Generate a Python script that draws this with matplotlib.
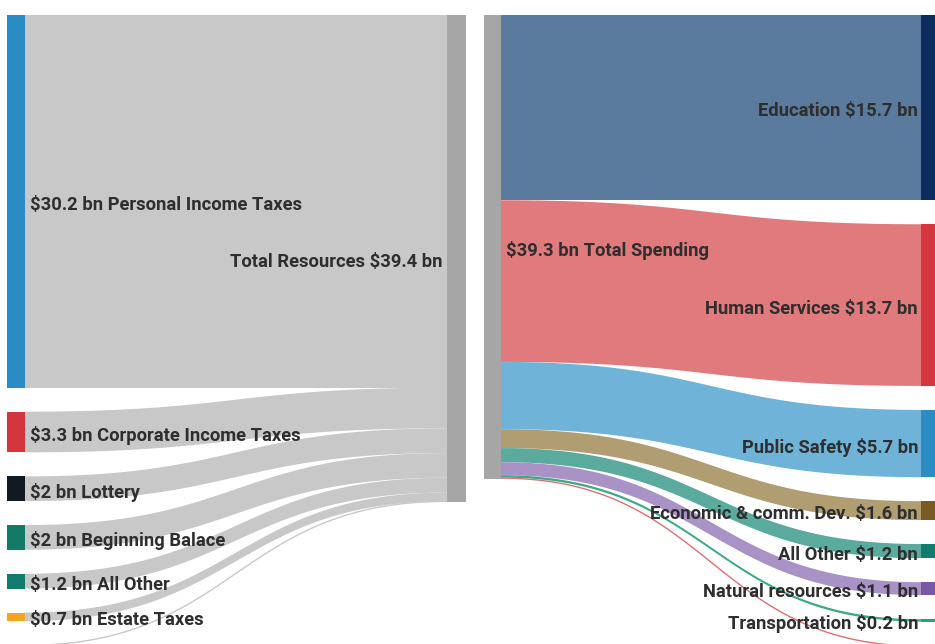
import numpy as np
import matplotlib
matplotlib.use("Agg")
import matplotlib.pyplot as plt

# sources -> Total Resources
src_labels = ["$30.2 bn Personal Income Taxes", "$3.3 bn Corporate Income Taxes", "$2 bn Lottery",
              "$2 bn Beginning Balace", "$1.2 bn All Other", "$0.7 bn Estate Taxes", ""]
src_values = [30.2, 3.3, 2.0, 2.0, 1.2, 0.7, 0.03]
src_colors = ["#2b8cc4", "#d4363d", "#111a22", "#137a68", "#137a6e", "#f2a623", "#c8c8c8"]
total_res_label = "Total Resources $39.4 bn"

# Total Spending -> targets
spend_label = "$39.3 bn Total Spending"
tgt_labels = ["Education $15.7 bn", "Human Services $13.7 bn", "Public Safety $5.7 bn",
              "Economic & comm. Dev. $1.6 bn", "All Other $1.2 bn", "Natural resources $1.1 bn",
              "Transportation $0.2 bn", ""]
tgt_values = [15.7, 13.7, 5.7, 1.6, 1.2, 1.1, 0.2, 0.1]
tgt_node_colors = ["#0b2c5c", "#d4363d", "#2b8cc4", "#7a5c22", "#137a6e", "#7a58a8", "#2aa07c", "#e07070"]
tgt_flow_colors = ["#5a7a9e", "#e07a7c", "#6fb3d8", "#b09d72", "#5aaa9e", "#a992c6", "#3aaa88", "#e07070"]

W, H = 935, 644
TOP = 15
NODE_GREY = "#a6a6a6"
FLOW_GREY = "#c8c8c8"
TXT = "#2e2e2e"
DY = 3.5  # text baseline nudge
FONT = dict(family=["Roboto", "DejaVu Sans"], fontweight="bold", fontsize=13.2, color=TXT)

fig = plt.figure(figsize=(W / 100, H / 100), dpi=100)
ax = fig.add_axes([0, 0, 1, 1])
ax.set_xlim(0, W)
ax.set_ylim(H, 0)
ax.axis("off")


def curve(x0, y0, x1, y1, n=80):
    t = np.linspace(0, 1, n)
    xm = (x0 + x1) / 2
    xs = (1 - t) ** 3 * x0 + 3 * (1 - t) ** 2 * t * xm + 3 * (1 - t) * t ** 2 * xm + t ** 3 * x1
    ys = (1 - t) ** 3 * y0 + 3 * (1 - t) ** 2 * t * y0 + 3 * (1 - t) * t ** 2 * y1 + t ** 3 * y1
    return xs, ys


def band(x0, a0, b0, x1, a1, b1, color):
    xt, yt = curve(x0, a0, x1, a1)
    xb, yb = curve(x0, b0, x1, b1)
    if b0 - a0 < 1.5:
        ax.plot(xt, (yt + yb) / 2, color=color, lw=1.0, zorder=1)
    else:
        ax.fill(np.r_[xt, xb[::-1]], np.r_[yt, yb[::-1]], color=color, lw=0, zorder=1)


# ---- left: sources -> total resources
k_left, gap_left = 12.34, 24
x_src0, x_src1 = 7, 25
x_tot0, x_tot1 = 447, 466
y = TOP
y_in = TOP
for lab, v, c in zip(src_labels, src_values, src_colors):
    h = v * k_left
    band(x_src1, y, y + h, x_tot0, y_in, y_in + h, FLOW_GREY)
    if lab:
        ax.add_patch(plt.Rectangle((x_src0, y), x_src1 - x_src0, h, color=c, lw=0, zorder=2))
        ax.text(x_src1 + 5, y + h / 2 + DY, lab, ha="left", va="center", zorder=3, **FONT)
    y += h + gap_left
    y_in += h
ax.add_patch(plt.Rectangle((x_tot0, TOP), x_tot1 - x_tot0, sum(src_values) * k_left,
                           color=NODE_GREY, lw=0, zorder=2))
ax.text(x_tot0 - 4, TOP + sum(src_values) * k_left / 2 + DY, total_res_label,
        ha="right", va="center", zorder=3, **FONT)

# ---- right: total spending -> targets
k_right, gap_right = 11.8, 24
x_sp0, x_sp1 = 484, 501
x_t0, x_t1 = 921, 940
y = TOP
y_out = TOP
for lab, v, fc, nc in zip(tgt_labels, tgt_values, tgt_flow_colors, tgt_node_colors):
    h = v * k_right
    band(x_sp1, y_out, y_out + h, x_t0, y, y + h, fc)
    ax.add_patch(plt.Rectangle((x_t0, y), x_t1 - x_t0, max(h, 1.5), color=nc, lw=0, zorder=2))
    if lab:
        ax.text(x_t0 - 3, y + h / 2 + DY, lab, ha="right", va="center", zorder=3, **FONT)
    y += h + gap_right
    y_out += h
sp_h = sum(tgt_values) * k_right
ax.add_patch(plt.Rectangle((x_sp0, TOP), x_sp1 - x_sp0, sp_h, color=NODE_GREY, lw=0, zorder=2))
ax.text(x_sp1 + 5, TOP + sp_h / 2 + DY, spend_label, ha="left", va="center", zorder=3, **FONT)

fig.savefig("out.png", dpi=100)
